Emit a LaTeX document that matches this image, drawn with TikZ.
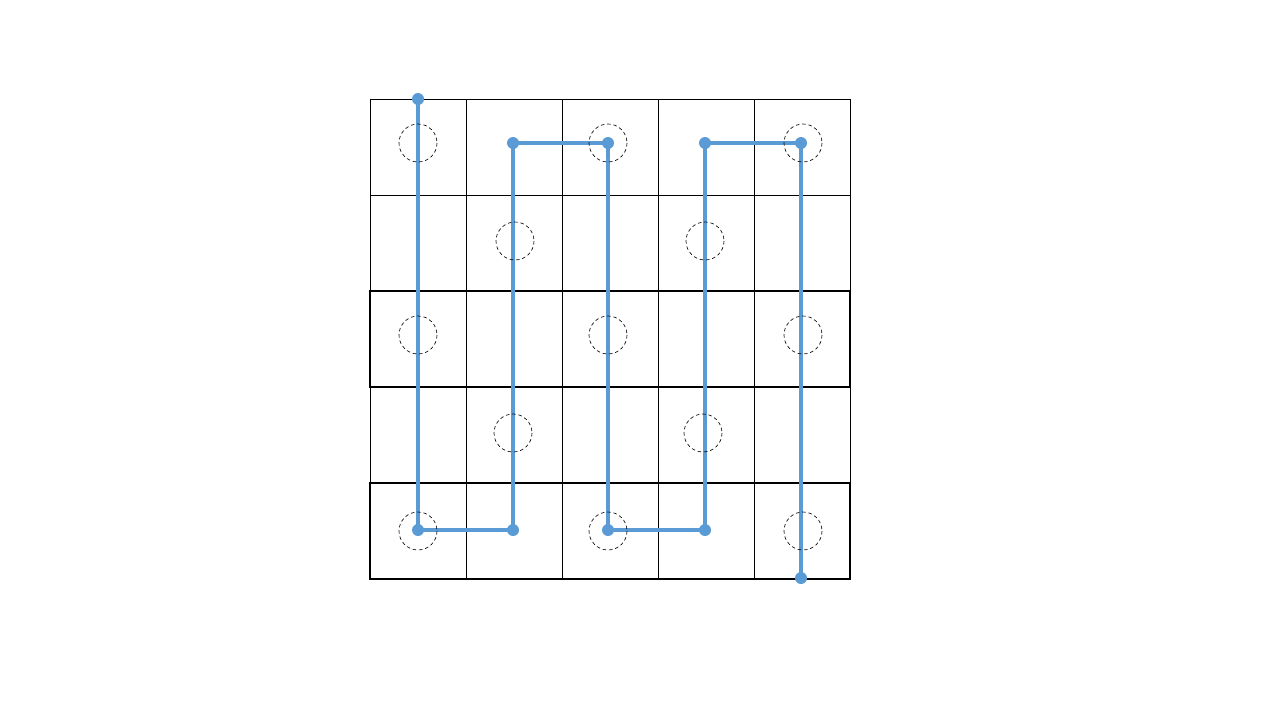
\documentclass[tikz,border=0pt]{standalone}
\usepackage{xcolor}
\usepackage{tikz}
\usetikzlibrary{positioning,calc}
\definecolor{pathblue}{HTML}{5B9BD5}

\begin{document}
\begin{tikzpicture}[x=0.05cm, y=-0.05cm,
  cell/.style={draw=black, line width=1.2pt},
  hole/.style={draw=black, dashed, dash pattern=on 5pt off 4pt, line width=0.9pt},
  dot/.style={circle, fill=pathblue, inner sep=0pt, minimum size=0.6cm},
  route/.style={draw=pathblue, line width=6pt}]
  \useasboundingbox (0,0) rectangle (1280,720);
  % grid of cells
  \foreach \i in {0,...,4}
    \foreach \j in {0,...,4}
      \draw[cell] (370+96*\i,99+96*\j) rectangle ++(96,96);
  % thicker frame rows
  \draw[cell, line width=1.5pt] (370,291) rectangle (850,387);
  \draw[cell, line width=1.5pt] (370,483) rectangle (850,579);
  % turning points of the route
  \node[dot] (p0) at (418,99) {};
  \node[dot] (p1) at (418,530) {};
  \node[dot] (p2) at (513,530) {};
  \node[dot] (p3) at (513,143) {};
  \node[dot] (p4) at (608,143) {};
  \node[dot] (p5) at (608,530) {};
  \node[dot] (p6) at (705,530) {};
  \node[dot] (p7) at (705,143) {};
  \node[dot] (p8) at (801,143) {};
  \node[dot] (p9) at (801,578) {};
  % route
  \draw[route] (p0.center) -- (p1.center) -- (p2.center) -- (p3.center)
    -- (p4.center) -- (p5.center) -- (p6.center) -- (p7.center)
    -- (p8.center) -- (p9.center);
  % dashed holes
  \foreach \x/\y in {418/143, 608/143, 803/143, 515/241, 705/241,
                     418/335, 608/335, 803/335, 513/433, 703/433,
                     418/531, 608/531, 803/531}
    \draw[hole] (\x,\y) circle[radius=19];
\end{tikzpicture}
\end{document}
